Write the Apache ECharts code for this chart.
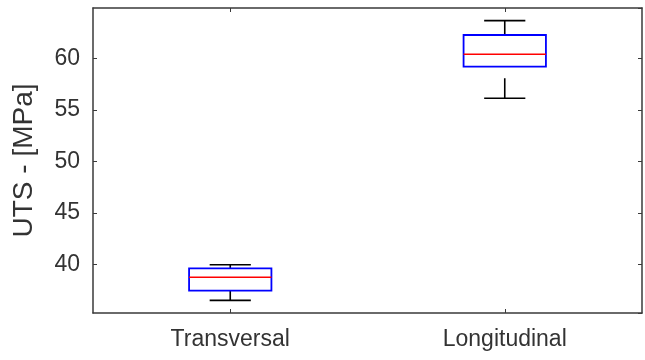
<!DOCTYPE html>
<html>
<head>
<meta charset="utf-8">
<script src="https://cdn.jsdelivr.net/npm/echarts@6/dist/echarts.min.js"></script>
<style>
  html, body { margin: 0; padding: 0; background: #ffffff; }
  #chart { width: 645px; height: 360px; }
</style>
</head>
<body>
<div id="chart"></div>
<script>
// Ultimate tensile strength per specimen orientation
const categories = ['Transversal', 'Longitudinal'];
const lowerWhisker = [36.50, 56.12];
const quartile1 = [37.44, 59.18];
const medians = [38.74, 60.39];
const quartile3 = [39.61, 62.26];
const upperWhisker = [39.96, 63.65];

const yMin = 35.27;
const yMax = 64.88;

const FONT = '"Liberation Sans", Arial, Helvetica, sans-serif';
const AXIS_COLOR = '#3a3a3a';
const TEXT_COLOR = '#333333';

const boxData = categories.map((c, i) => [
  i, lowerWhisker[i], quartile1[i], medians[i], quartile3[i], upperWhisker[i]
]);

// Box drawn MATLAB-style: blue box, red median, black dashed whiskers with caps
function renderBox(params, api) {
  const idx = api.value(0);
  const band = api.size([1, 0])[0];
  const boxHalf = band * 0.15;
  const capHalf = band * 0.075;
  const pLow = api.coord([idx, api.value(1)]);
  const pQ1 = api.coord([idx, api.value(2)]);
  const pMed = api.coord([idx, api.value(3)]);
  const pQ3 = api.coord([idx, api.value(4)]);
  const pHigh = api.coord([idx, api.value(5)]);
  const cx = pMed[0];
  const lw = 1.6;
  const whiskerStyle = { stroke: '#000000', lineWidth: lw, lineDash: [20, 12] };
  const capStyle = { stroke: '#000000', lineWidth: lw };
  return {
    type: 'group',
    children: [
      { type: 'line', shape: { x1: cx, y1: pHigh[1], x2: cx, y2: pQ3[1] }, style: whiskerStyle },
      { type: 'line', shape: { x1: cx, y1: pLow[1], x2: cx, y2: pQ1[1] }, style: whiskerStyle },
      { type: 'line', shape: { x1: cx - capHalf, y1: pHigh[1], x2: cx + capHalf, y2: pHigh[1] }, style: capStyle },
      { type: 'line', shape: { x1: cx - capHalf, y1: pLow[1], x2: cx + capHalf, y2: pLow[1] }, style: capStyle },
      {
        type: 'rect',
        shape: { x: cx - boxHalf, y: pQ3[1], width: boxHalf * 2, height: pQ1[1] - pQ3[1] },
        style: { fill: 'none', stroke: '#0000ff', lineWidth: 1.8 }
      },
      { type: 'line', shape: { x1: cx - boxHalf, y1: pMed[1], x2: cx + boxHalf, y2: pMed[1] }, style: { stroke: '#ff0000', lineWidth: 1.6 } }
    ]
  };
}

const chart = echarts.init(document.getElementById('chart'), null, { renderer: 'canvas' });

const catAxisBase = {
  type: 'category',
  data: categories,
  boundaryGap: true,
  axisLine: { show: true, onZero: false, lineStyle: { color: AXIS_COLOR, width: 1.5 } },
  axisTick: { show: true, inside: true, length: 4, alignWithLabel: true, lineStyle: { color: AXIS_COLOR, width: 1 } },
  splitLine: { show: false }
};

const valAxisBase = {
  type: 'value',
  min: yMin,
  max: yMax,
  splitNumber: 5,
  axisLine: { show: true, lineStyle: { color: AXIS_COLOR, width: 1.5 } },
  axisTick: { show: true, inside: true, length: 4, lineStyle: { color: AXIS_COLOR, width: 1 } },
  splitLine: { show: false }
};

chart.setOption({
  backgroundColor: '#ffffff',
  animation: false,
  grid: { left: 93, right: 3, top: 8, bottom: 47, containLabel: false },
  xAxis: [
    Object.assign({}, catAxisBase, {
      position: 'bottom',
      axisLabel: { show: true, margin: 15, color: TEXT_COLOR, fontSize: 23, fontFamily: FONT }
    }),
    Object.assign({}, catAxisBase, {
      position: 'top',
      axisLabel: { show: false }
    })
  ],
  yAxis: [
    Object.assign({}, valAxisBase, {
      position: 'left',
      name: 'UTS - [MPa]',
      nameLocation: 'middle',
      nameRotate: 90,
      nameGap: 55,
      nameTextStyle: { color: TEXT_COLOR, fontSize: 28, fontFamily: FONT },
      axisLabel: {
        show: true, margin: 13, color: TEXT_COLOR, fontSize: 23, fontFamily: FONT,
        showMinLabel: false, showMaxLabel: false
      }
    }),
    Object.assign({}, valAxisBase, {
      position: 'right',
      axisLabel: { show: false }
    })
  ],
  series: [{
    type: 'custom',
    xAxisIndex: 0,
    yAxisIndex: 0,
    renderItem: renderBox,
    encode: { x: 0, y: [1, 2, 3, 4, 5] },
    data: boxData,
    clip: false
  }]
});
</script>
</body>
</html>
